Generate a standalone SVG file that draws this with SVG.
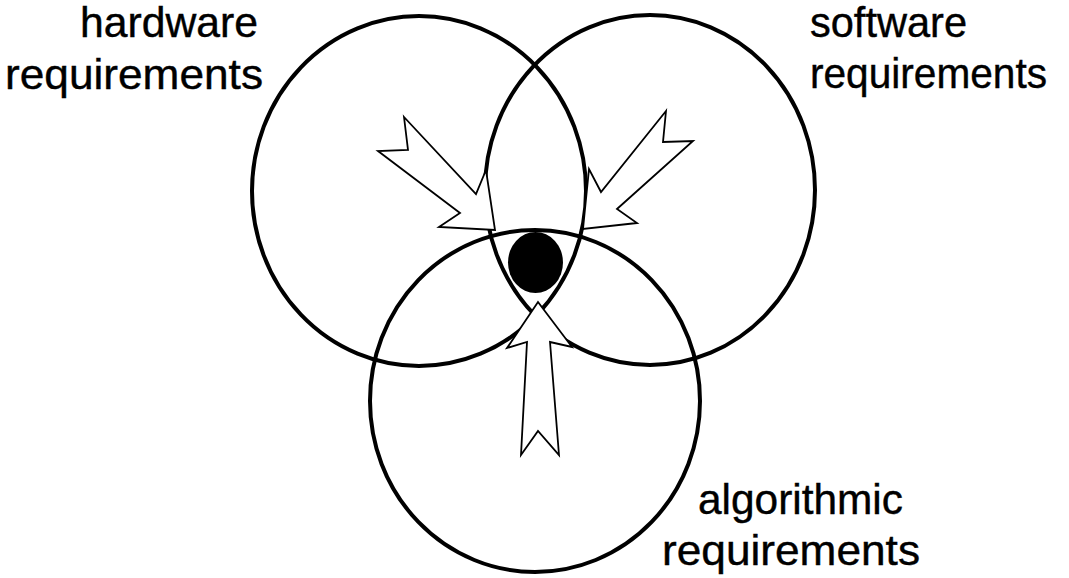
<svg xmlns="http://www.w3.org/2000/svg" width="1069" height="578" viewBox="0 0 1069 578">
  <style>
    .ring { fill: none; stroke: #000; stroke-width: 4; }
    .arrow { fill: #fff; stroke: #000; stroke-width: 1.8; stroke-linejoin: miter; }
    .label { font-family: "Liberation Sans", Arial, sans-serif; font-size: 42px; fill: #000; stroke: #000; stroke-width: 0.4; }
  </style>
  <rect width="1069" height="578" fill="#fff"/>
  <g id="hardware">
    <ellipse class="ring" cx="419" cy="191" rx="167" ry="175"/>
    <text class="label" x="80" y="37" textLength="178" lengthAdjust="spacingAndGlyphs">hardware</text>
    <text class="label" x="5" y="89" textLength="258" lengthAdjust="spacingAndGlyphs">requirements</text>
  </g>
  <g id="software">
    <ellipse class="ring" cx="650" cy="190" rx="165" ry="175"/>
    <text class="label" x="810" y="37" textLength="157" lengthAdjust="spacingAndGlyphs">software</text>
    <text class="label" x="810" y="88" textLength="237" lengthAdjust="spacingAndGlyphs">requirements</text>
  </g>
  <g id="algorithmic">
    <ellipse class="ring" cx="535" cy="401" rx="165" ry="171"/>
    <text class="label" x="698" y="514" textLength="205" lengthAdjust="spacingAndGlyphs">algorithmic</text>
    <text class="label" x="662" y="565" textLength="258" lengthAdjust="spacingAndGlyphs">requirements</text>
  </g>
  <g id="intersection">
    <ellipse cx="535.5" cy="262.5" rx="27.5" ry="30.5" fill="#000"/>
  </g>
  <g id="connectors">
    <polygon class="arrow" points="404,117 476,194 486,170 495,230 439,227 460,213 378,151 408,150"/>
    <polygon class="arrow" points="666,111 601,192 589,169 583,229 637,223 617,209 693,141 663,142"/>
    <polygon class="arrow" points="538,302 572,347 550,342 559,455 538,431 521,455 527,342 507,348"/>
  </g>
</svg>
